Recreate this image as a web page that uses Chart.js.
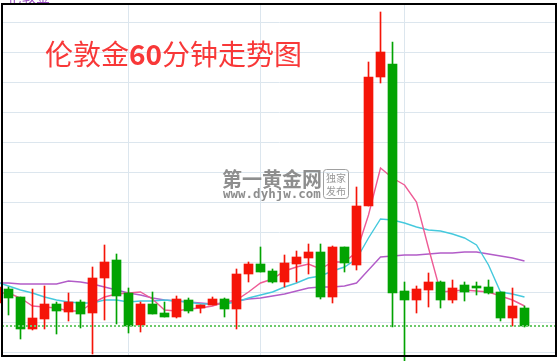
<!DOCTYPE html>
<html>
<head>
<meta charset="utf-8">
<script src="https://cdn.jsdelivr.net/npm/chart.js@4.4.0/dist/chart.umd.min.js"></script>
<style>
    html, body { margin: 0; padding: 0; background: #ffffff; }
</style>
</head>
<body>
<canvas id="kline_canvas" width="558" height="361"></canvas>
<script>
// London gold, 60 minute bars. first bar is half hidden behind the left edge
var opens  = [1286.0, 1287.4, 1286.6, 1283.4, 1284.4, 1285.9, 1285.1, 1286.1, 1285.0, 1288.5, 1290.3, 1287.0, 1283.8, 1285.9, 1285.0,
              1284.6, 1286.3, 1285.5, 1285.8, 1286.4, 1285.4, 1288.9, 1289.9, 1289.2, 1288.1, 1289.9, 1290.5, 1291.1, 1286.6, 1291.6,
              1289.8, 1295.7, 1308.6, 1309.9, 1287.2, 1286.3, 1287.3, 1288.1, 1286.3, 1287.8, 1287.7, 1287.6, 1287.1, 1284.5, 1285.5];
var highs  = [1287.8, 1287.6, 1286.6, 1287.4, 1287.7, 1286.1, 1287.0, 1286.3, 1289.6, 1291.8, 1290.9, 1287.5, 1286.1, 1287.1, 1286.1,
              1286.7, 1286.5, 1285.8, 1286.6, 1286.5, 1289.4, 1290.1, 1291.6, 1289.4, 1290.8, 1291.2, 1291.9, 1291.9, 1291.7, 1291.6,
              1297.6, 1310.1, 1315.1, 1312.1, 1288.1, 1287.7, 1289.0, 1288.2, 1288.3, 1288.1, 1288.1, 1288.3, 1287.1, 1287.5, 1285.7];
var lows   = [1285.8, 1284.8, 1282.4, 1283.3, 1283.4, 1282.9, 1284.2, 1283.5, 1280.9, 1284.3, 1283.9, 1283.0, 1283.1, 1284.9, 1284.6,
              1284.5, 1285.0, 1285.0, 1285.8, 1284.6, 1283.4, 1288.1, 1289.1, 1288.0, 1287.6, 1288.1, 1288.9, 1286.4, 1286.0, 1289.1,
              1289.3, 1295.7, 1308.0, 1283.6, 1280.1, 1285.0, 1285.6, 1285.5, 1286.0, 1286.2, 1286.8, 1286.9, 1284.2, 1283.7, 1283.6];
var closes = [1287.6, 1286.5, 1283.4, 1284.5, 1285.9, 1285.2, 1286.1, 1284.9, 1288.5, 1290.1, 1286.7, 1283.7, 1285.9, 1284.9, 1284.6,
              1286.4, 1285.2, 1285.8, 1286.4, 1285.4, 1288.9, 1289.9, 1289.1, 1288.1, 1290.0, 1290.6, 1291.1, 1286.6, 1291.6, 1290.0,
              1295.7, 1308.6, 1311.1, 1287.0, 1286.3, 1287.4, 1288.1, 1286.3, 1287.5, 1287.1, 1287.5, 1287.0, 1284.5, 1285.7, 1283.7];

// moving averages
var ma_short = [1287.0, 1287.0, 1286.5, 1285.7, 1285.6, 1285.5, 1285.2, 1285.2, 1286.0, 1286.6, 1286.9, 1287.0, 1287.1, 1286.4, 1285.3,
                1285.2, 1285.4, 1285.5, 1285.7, 1286.1, 1286.3, 1287.1, 1288.0, 1288.4, 1289.2, 1289.6, 1289.9, 1289.4, 1290.1, 1290.1,
                1291.1, 1294.8, 1299.5, 1298.5, 1297.8, 1296.1, 1291.5, 1287.1, 1287.2, 1287.3, 1287.2, 1287.1, 1286.7, 1286.3, 1285.7];
var ma_mid   = [1288.1, 1287.7, 1287.3, 1287.0, 1286.6, 1286.3, 1286.1, 1286.0, 1286.0, 1286.3, 1286.3, 1286.1, 1286.2, 1286.2, 1286.3,
                1286.2, 1286.1, 1285.9, 1285.9, 1285.9, 1286.1, 1286.5, 1286.8, 1287.1, 1287.6, 1288.0, 1288.5, 1288.7, 1289.2, 1289.6,
                1290.4, 1292.5, 1294.4, 1294.3, 1294.0, 1293.6, 1293.3, 1293.2, 1292.9, 1292.5, 1291.8, 1289.8, 1287.1, 1286.9, 1286.6];
var ma_long  = [1288.0, 1288.0, 1287.9, 1287.9, 1287.9, 1287.9, 1288.2, 1288.1, 1287.9, 1287.6, 1287.3, 1287.0, 1286.8, 1286.5, 1286.3,
                1286.2, 1286.1, 1286.0, 1285.9, 1286.0, 1286.2, 1286.4, 1286.5, 1286.7, 1286.9, 1287.2, 1287.5, 1287.6, 1287.6, 1287.7,
                1288.0, 1289.3, 1290.6, 1290.7, 1290.8, 1290.8, 1290.9, 1291.0, 1291.0, 1291.1, 1291.1, 1290.9, 1290.7, 1290.5, 1290.2];

var price_lines = [1281, 1284, 1287, 1290, 1293, 1296, 1299, 1302, 1305, 1308, 1311, 1314];
var session_marks = [10, 21, 33]; // bar slots with a vertical separator
var title_parts = ["伦敦金", "60", "分钟走势图"];
var watermark_name = "第一黄金网";
var watermark_url = "www.dyhjw.com";
var watermark_stamp = ["独家", "发布"];

var UP_COLOR = "#f51408";
var DOWN_COLOR = "#02a302";

// slot of each bar on the x axis (first bar sits at -1)
var slots = opens.map(function(v, i){ return i - 1; });
var last_close = closes[closes.length - 1];
var X_MIN = -0.5417, X_MAX = 45.708;

var candle_colors = opens.map(function(o, i){ return closes[i] >= o ? UP_COLOR : DOWN_COLOR; });
var bodies = slots.map(function(s, i){ return {x: s, y: [opens[i], closes[i]]}; });
var wicks = slots.map(function(s, i){ return {x: s, y: [lows[i], highs[i]]}; });
function line_points(values){
    return slots.map(function(s, i){ return {x: s, y: values[i]}; });
}

var overlay_text = {
    id: "overlay_text",
    beforeDatasetsDraw: function(chart){
        var ctx = chart.ctx;
        ctx.save();
        // watermark
        ctx.fillStyle = "#8e8e8e";
        ctx.textBaseline = "alphabetic";
        ctx.font = "bold 20px 'Noto Sans CJK SC'";
        ctx.fillText(watermark_name, 222, 187);
        ctx.font = "bold 12.5px 'DejaVu Sans Mono'";
        ctx.fillText(watermark_url, 223, 198);
        ctx.strokeStyle = "#a0a0a0";
        ctx.lineWidth = 1;
        ctx.beginPath();
        ctx.roundRect(323.5, 169.5, 25, 29, 3);
        ctx.stroke();
        ctx.font = "10px 'Noto Sans CJK SC'";
        ctx.textAlign = "center";
        ctx.fillStyle = "#999999";
        ctx.fillText(watermark_stamp[0], 336, 182);
        ctx.fillText(watermark_stamp[1], 336, 195);
        ctx.restore();
    },
    afterDraw: function(chart){
        var ctx = chart.ctx;
        ctx.save();
        // title
        ctx.fillStyle = "#f83838";
        ctx.textBaseline = "alphabetic";
        var x = 45;
        ctx.font = "28px 'Noto Sans CJK SC'";
        ctx.fillText(title_parts[0], x, 65);
        x += ctx.measureText(title_parts[0]).width;
        ctx.font = "bold 28px 'Noto Sans CJK SC'";
        ctx.fillText(title_parts[1], x, 65);
        x += ctx.measureText(title_parts[1]).width;
        ctx.font = "28px 'Noto Sans CJK SC'";
        ctx.fillText(title_parts[2], x, 65);

        // clipped label at the very top
        ctx.fillStyle = "#9b4fc2";
        ctx.font = "14px 'Noto Sans CJK SC'";
        ctx.fillText(title_parts[0], 8, 2);

        // frame
        ctx.strokeStyle = "#000000";
        ctx.lineWidth = 2;
        ctx.strokeRect(2, 4, 554, 352);
        ctx.restore();
    }
};

var ctx = document.getElementById("kline_canvas").getContext("2d");
var the_chart = new Chart(ctx, {
    type: "bar",
    data: {
        datasets: [
            {
                type: "line", data: [{x: X_MIN, y: last_close}, {x: X_MAX, y: last_close}],
                borderColor: "#6cc96c", borderWidth: 2, borderDash: [2, 2], pointRadius: 0, order: -1
            },
            {
                type: "bar", data: bodies, backgroundColor: candle_colors, borderWidth: 0,
                barThickness: 9, grouped: false, order: 0, clip: {left: 3, top: 0, right: 0, bottom: 4}
            },
            {
                type: "bar", data: wicks, backgroundColor: candle_colors, borderWidth: 0,
                barThickness: 1, grouped: false, order: 1, clip: {left: 3, top: 0, right: 0, bottom: 4}
            },
            {
                type: "line", data: line_points(ma_short), borderColor: "#ee5b95", borderWidth: 1.4,
                pointRadius: 0, tension: 0, order: 2, clip: {left: 3, top: 0, right: 0, bottom: 0}
            },
            {
                type: "line", data: line_points(ma_mid), borderColor: "#45c9dd", borderWidth: 1.4,
                pointRadius: 0, tension: 0, order: 3, clip: {left: 3, top: 0, right: 0, bottom: 0}
            },
            {
                type: "line", data: line_points(ma_long), borderColor: "#b25cc8", borderWidth: 1.4,
                pointRadius: 0, tension: 0, order: 4, clip: {left: 3, top: 0, right: 0, bottom: 0}
            }
        ]
    },
    options: {
        responsive: false,
        animation: false,
        devicePixelRatio: 1,
        layout: { padding: {left: 2, top: 3, right: 1, bottom: 4} },
        plugins: { legend: {display: false}, tooltip: {enabled: false} },
        scales: {
            x: {
                type: "linear", min: X_MIN, max: X_MAX, offset: false,
                ticks: {display: false},
                border: {display: false},
                grid: {color: "#dce6ee", lineWidth: 1, drawTicks: false, offset: false},
                afterBuildTicks: function(scale){
                    scale.ticks = session_marks.map(function(v){ return {value: v}; });
                }
            },
            y: {
                type: "linear", min: 1280.6, max: 1316.0,
                ticks: {display: false},
                border: {display: false},
                grid: {color: "#dce6ee", lineWidth: 1, drawTicks: false},
                afterBuildTicks: function(scale){
                    scale.ticks = price_lines.map(function(v){ return {value: v}; });
                }
            }
        }
    },
    plugins: [overlay_text]
});
</script>
</body>
</html>
